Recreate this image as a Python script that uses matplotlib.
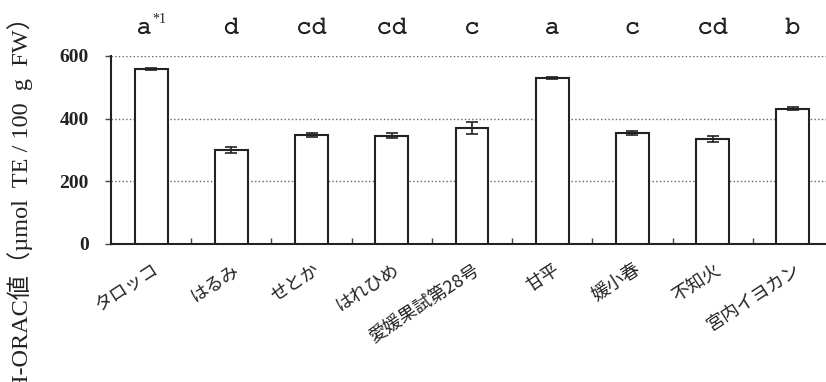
import numpy as np
import matplotlib
matplotlib.use('Agg')
import matplotlib.pyplot as plt
import matplotlib.patheffects as pe
from matplotlib.ticker import FixedLocator

# data
cultivars = ['タロッコ', 'はるみ', 'せとか', 'はれひめ', '愛媛果試第28号',
             '甘平', '媛小春', '不知火', '宮内イヨカン']
orac = [558, 300, 347, 346, 370, 530, 355, 335, 432]
orac_err = [4, 11, 6, 7, 19, 3, 7, 11, 5]
groups = ['a', 'd', 'cd', 'cd', 'c', 'a', 'c', 'cd', 'b']
notes = ['*1', '', '', '', '', '', '', '', '']
yticks = [0, 200, 400, 600]
ylabel = 'H-ORAC値（µmol  TE / 100  g  FW）'

jp = ['Noto Sans CJK JP', 'DejaVu Sans']
serif = ['Liberation Serif', 'Noto Sans CJK JP']
mono = ['Courier New', 'Nimbus Mono PS', 'FreeMono', 'Liberation Mono', 'DejaVu Sans Mono']
ink = '#222222'

fig = plt.figure(figsize=(8.26, 3.82), dpi=100)
ax = fig.add_axes([111/826, 138/382, 722/826, 188/382])

x = np.arange(len(cultivars))
ax.bar(x, orac, width=0.41, color='white', edgecolor=ink, linewidth=1.5, zorder=3)
ax.errorbar(x, orac, yerr=orac_err, fmt='none', ecolor=ink,
            elinewidth=1.2, capsize=4.5, capthick=1.2, zorder=4)

ax.set_xlim(-0.5, len(cultivars) - 0.5)
ax.set_ylim(0, 600)
ax.set_yticks(yticks)
ax.set_yticklabels([str(v) for v in yticks], fontfamily=serif,
                   fontsize=14, fontweight='bold', color=ink)
ax.tick_params(axis='y', direction='out', length=4, width=1, pad=12, color='#444444')

ax.set_xticks(x)
ax.set_xticklabels([])
ax.tick_params(axis='x', which='major', length=0)
ax.xaxis.set_minor_locator(FixedLocator(x[:-1] + 0.5))
ax.tick_params(axis='x', which='minor', direction='in', length=4, width=1, color='#444444')

ax.grid(axis='y', linestyle=':', color='#666666', linewidth=1.0, zorder=0)
for s in ['top', 'right']:
    ax.spines[s].set_visible(False)
for s in ['left', 'bottom']:
    ax.spines[s].set_color(ink)
    ax.spines[s].set_linewidth(1.5)

# category labels, rotated, ending under each bar
for i, name in enumerate(cultivars):
    ax.annotate(name, xy=(i, 0), xytext=(1, -12), textcoords='offset points',
                rotation=33, rotation_mode='anchor',
                ha='right', va='top', fontsize=13, fontfamily=jp,
                color=ink, annotation_clip=False)

# significance letters above the plot
thicken = [pe.withStroke(linewidth=0.7, foreground=ink)]
for i, (g, n) in enumerate(zip(groups, notes)):
    dx = -5 if n else 0
    ax.annotate(g, xy=(i, 600), xytext=(dx, 20), textcoords='offset points',
                ha='center', va='center', fontsize=18, fontfamily=mono,
                color=ink, annotation_clip=False, path_effects=thicken)
    if n:
        ax.annotate(n, xy=(i, 600), xytext=(dx + 6, 26), textcoords='offset points',
                    ha='left', va='center', fontsize=10, fontfamily=serif,
                    color=ink, annotation_clip=False)

fig.text(20/826, -0.025, ylabel, rotation=90, ha='center', va='bottom',
         fontsize=17.5, fontfamily=serif, color=ink)

fig.savefig('out.png', dpi=100)
